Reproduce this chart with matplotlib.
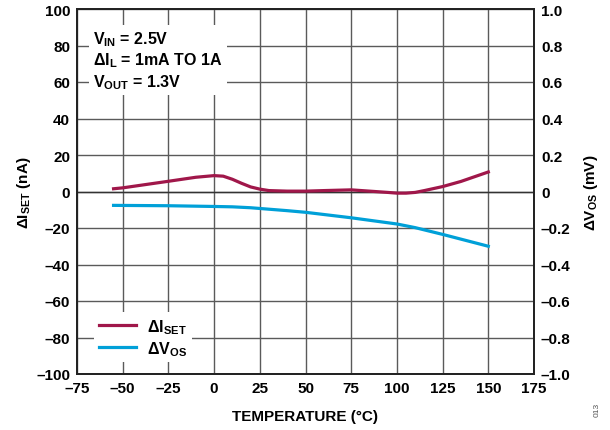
import matplotlib
matplotlib.use("Agg")
import matplotlib.pyplot as plt

plt.rcParams['font.family'] = ['Liberation Sans', 'DejaVu Sans']
plt.rcParams['font.weight'] = 'bold'
plt.rcParams['mathtext.fontset'] = 'custom'
plt.rcParams['mathtext.rm'] = 'Liberation Sans:bold'
plt.rcParams['mathtext.bf'] = 'Liberation Sans:bold'
plt.rcParams['mathtext.it'] = 'Liberation Sans:bold'
plt.rcParams['axes.unicode_minus'] = False

# Data
iset_temp = [-55, -50, -25, -10, 0, 5, 10, 15, 20, 25, 30, 40, 50, 60, 75, 85, 95, 100, 105, 110, 115, 125, 135, 150]
iset_na = [1.5, 2.0, 5.6, 7.8, 8.7, 8.4, 6.7, 4.5, 2.5, 1.3, 0.5, 0.2, 0.2, 0.5, 0.9, 0.2, -0.5, -0.9, -0.9, -0.5, 0.5, 2.7, 5.5, 10.7]
vos_temp = [-55, -25, 0, 10, 20, 25, 40, 50, 75, 100, 110, 125, 150]
vos_mv = [-0.076, -0.078, -0.082, -0.084, -0.089, -0.093, -0.105, -0.114, -0.144, -0.178, -0.198, -0.235, -0.300]

x_ticks = [-75, -50, -25, 0, 25, 50, 75, 100, 125, 150, 175]
y_ticks = [-100, -80, -60, -40, -20, 0, 20, 40, 60, 80, 100]
y2_ticks = [-1.0, -0.8, -0.6, -0.4, -0.2, 0, 0.2, 0.4, 0.6, 0.8, 1.0]

RED = '#A0174A'
BLUE = '#00A0D8'
FS = 11

def fmt(v, dec=0):
    if v == 0:
        return '0'
    s = f'{abs(v):.{dec}f}'
    return ('\u2013' + s) if v < 0 else s

fig = plt.figure(figsize=(6.10, 4.31), dpi=100)
ax = fig.add_axes([77/610, 1-375/431, (534-77)/610, (375-10)/431])
ax2 = ax.twinx()

ax.set_xlim(-75, 175)
ax.set_ylim(-100, 100)
ax2.set_ylim(-1.0, 1.0)

ax.set_xticks(x_ticks)
ax.set_xticklabels([fmt(v) for v in x_ticks])
ax.set_yticks(y_ticks)
ax.set_yticklabels([fmt(v) for v in y_ticks])
ax2.set_yticks(y2_ticks)
ax2.set_yticklabels([fmt(v, 1) if v != 0 else '0' for v in y2_ticks])

for a in (ax, ax2):
    a.tick_params(length=0, labelsize=FS, pad=5)
    for s in a.spines.values():
        s.set_linewidth(1.3)
        s.set_color('#222222')

ax.grid(True, color='#5a5a5a', linewidth=1.0)
ax.axhline(0, color='#333333', linewidth=1.0, zorder=1)
ax.set_axisbelow(True)

l1, = ax2.plot(iset_temp, [v/100 for v in iset_na], color=RED, linewidth=2.3, label='\u0394I$_{\\rm SET}$')
l2, = ax2.plot(vos_temp, vos_mv, color=BLUE, linewidth=2.3, label='\u0394V$_{\\rm OS}$')

ax.set_xlabel('TEMPERATURE (\u00b0C)', fontsize=FS, fontweight='bold', labelpad=10)
ax.set_ylabel('\u0394I$_{\\rm SET}$ (nA)', fontsize=FS, fontweight='bold', labelpad=2)
ax2.set_ylabel('\u0394V$_{\\rm OS}$ (mV)', fontsize=FS, fontweight='bold', labelpad=8)

ax2.text(-66, 0.72, 'V$_{\\rm IN}$ = 2.5V\n\u0394I$_{\\rm L}$ = 1mA TO 1A\nV$_{\\rm OUT}$ = 1.3V',
         fontsize=FS + 0.5, fontweight='bold', va='center', ha='left', linespacing=1.22,
         bbox=dict(facecolor='white', edgecolor='none', pad=3))

leg = ax2.legend(handles=[l1, l2], loc='lower left', bbox_to_anchor=(0.02, 0.01),
                 frameon=True, fontsize=FS + 0.5, handlelength=2.3, borderpad=0.3,
                 labelspacing=0.2, handletextpad=0.7)
leg.get_frame().set_edgecolor('none')
leg.get_frame().set_facecolor('white')
leg.get_frame().set_alpha(1)
leg.get_frame().set_boxstyle('square', pad=0)

fig.text(597/610, 1-410/431, '013', rotation=90, fontsize=6, color='#555555',
         ha='center', va='center', fontweight='normal')

fig.savefig('out.png', dpi=100)
